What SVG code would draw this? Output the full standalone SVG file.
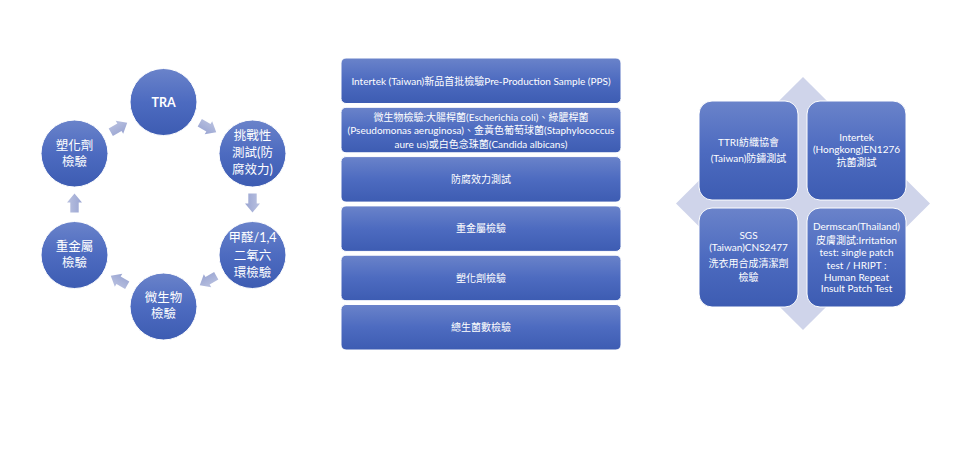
<svg xmlns="http://www.w3.org/2000/svg" width="960" height="456" viewBox="0 0 960 456">
<defs>
<linearGradient id="gb" x1="0" y1="0" x2="0" y2="1">
<stop offset="0" stop-color="#6a83ca"/>
<stop offset="0.5" stop-color="#4d6bc0"/>
<stop offset="1" stop-color="#3d5cb2"/>
</linearGradient>
<linearGradient id="ga" x1="0" y1="0" x2="0" y2="1">
<stop offset="0" stop-color="#b9c1e0"/>
<stop offset="1" stop-color="#9aa5d2"/>
</linearGradient>
<path id="arr" d="M-9.5,-4.2 H0.5 V-7.5 L9.5,0 L0.5,7.5 V4.2 H-9.5 Z" fill="url(#ga)"/>
</defs>
<style>
.n{fill:url(#gb);stroke:#ffffff;stroke-width:1}
.t{font-family:Lato,"Noto Sans CJK TC",sans-serif;fill:#ffffff;text-anchor:middle}
.c{font-size:12.5px}
.m{font-size:10px}
.r{font-size:10px}
</style>
<rect width="960" height="456" fill="#ffffff"/>

<g id="connectors">
<use href="#arr" transform="translate(208,127.5) rotate(30)"/>
<use href="#arr" transform="translate(252.5,203) rotate(90)"/>
<use href="#arr" transform="translate(208,280.5) rotate(150)"/>
<use href="#arr" transform="translate(119,280.5) rotate(210)"/>
<use href="#arr" transform="translate(74.5,203) rotate(270)"/>
<use href="#arr" transform="translate(119,127.5) rotate(330)"/>
</g>

<g id="c-tra"><circle class="n" cx="163.5" cy="102" r="33.5"/>
<text class="t c" x="163.5" y="106.5" font-weight="bold">TRA</text></g>
<g id="c-challenge"><circle class="n" cx="252.5" cy="153.5" r="33.5"/>
<text class="t c" x="252.5" y="139.5">挑戰性</text>
<text class="t c" x="252.5" y="156.5">測試(防</text>
<text class="t c" x="252.5" y="173.5">腐效力)</text></g>
<g id="c-formal"><circle class="n" cx="252.5" cy="255" r="33.5"/>
<text class="t c" x="252.5" y="242">甲醛/1,4</text>
<text class="t c" x="252.5" y="259.5">二氧六</text>
<text class="t c" x="252.5" y="277">環檢驗</text></g>
<g id="c-micro"><circle class="n" cx="163.5" cy="306.5" r="33.5"/>
<text class="t c" x="163.5" y="302">微生物</text>
<text class="t c" x="163.5" y="318">檢驗</text></g>
<g id="c-heavy"><circle class="n" cx="74.5" cy="255" r="33.5"/>
<text class="t c" x="74.5" y="251">重金屬</text>
<text class="t c" x="74.5" y="267">檢驗</text></g>
<g id="c-plastic"><circle class="n" cx="74.5" cy="153.5" r="33.5"/>
<text class="t c" x="74.5" y="149.5">塑化劑</text>
<text class="t c" x="74.5" y="165.5">檢驗</text></g>

<g id="b1"><rect class="n" x="341" y="58" width="280" height="45.5" rx="5"/>
<text class="t m" x="481" y="85">Intertek (Taiwan)新品首批檢驗Pre-Production Sample (PPS)</text></g>
<g id="b2"><rect class="n" x="341" y="107.3" width="280" height="45.5" rx="5"/>
<text class="t m" x="481" y="120.5">微生物檢驗:大腸桿菌(Escherichia coli)、綠膿桿菌</text>
<text class="t m" x="481" y="134">(Pseudomonas aeruginosa)、金黃色葡萄球菌(Staphylococcus</text>
<text class="t m" x="481" y="147.5">aure us)或白色念珠菌(Candida albicans)</text></g>
<g id="b3"><rect class="n" x="341" y="156.6" width="280" height="45.5" rx="5"/>
<text class="t m" x="481" y="183">防腐效力測試</text></g>
<g id="b4"><rect class="n" x="341" y="205.9" width="280" height="45.5" rx="5"/>
<text class="t m" x="481" y="232">重金屬檢驗</text></g>
<g id="b5"><rect class="n" x="341" y="255.2" width="280" height="45.5" rx="5"/>
<text class="t m" x="481" y="281.5">塑化劑檢驗</text></g>
<g id="b6"><rect class="n" x="341" y="304.5" width="280" height="45.5" rx="5"/>
<text class="t m" x="481" y="331">總生菌數檢驗</text></g>

<g id="diamond"><polygon points="803,77 930,203.5 803,330 676,203.5" fill="#cfd4ea"/></g>
<g id="q-ttri"><rect class="n" x="699" y="101" width="99" height="99" rx="13"/>
<text class="t r" x="748.5" y="145.5">TTRI紡織協會</text>
<text class="t r" x="748.5" y="161.5">(Taiwan)防鏽測試</text></g>
<g id="q-intertek"><rect class="n" x="807" y="101" width="99" height="99" rx="13"/>
<text class="t r" x="856.5" y="140.5">Intertek</text>
<text class="t r" x="856.5" y="153">(Hongkong)EN1276</text>
<text class="t r" x="856.5" y="166">抗菌測試</text></g>
<g id="q-sgs"><rect class="n" x="699" y="208" width="99" height="99" rx="13"/>
<text class="t r" x="748.5" y="238.5">SGS</text>
<text class="t r" x="748.5" y="251">(Taiwan)CNS2477</text>
<text class="t r" x="748.5" y="267">洗衣用合成清潔劑</text>
<text class="t r" x="748.5" y="281">檢驗</text></g>
<g id="q-dermscan"><rect class="n" x="807" y="208" width="99" height="99" rx="13"/>
<text class="t r" x="856.5" y="229.5">Dermscan(Thailand)</text>
<text class="t r" x="856.5" y="243.5">皮膚測試:Irritation</text>
<text class="t r" x="856.5" y="256">test: single patch</text>
<text class="t r" x="856.5" y="268.5">test / HRIPT :</text>
<text class="t r" x="856.5" y="280.5">Human Repeat</text>
<text class="t r" x="856.5" y="292">Insult Patch Test</text></g>
</svg>
